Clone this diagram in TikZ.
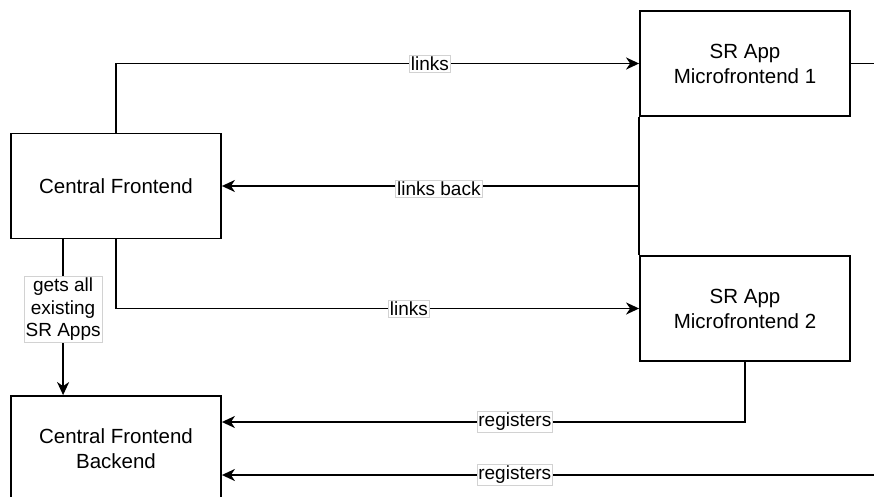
\documentclass[tikz,border=0pt]{standalone}
\usepackage{fontspec}
\setmainfont{Liberation Sans}
\usetikzlibrary{arrows.meta}
\tikzset{
  box/.style={draw, line width=1.8pt, minimum width=210pt, minimum height=105pt, align=center, font=\fontsize{20.5}{25}\selectfont, inner sep=0pt},
  conn/.style={line width=1.8pt},
  arr/.style={conn, -{Stealth[length=13pt, width=12pt, inset=4pt]}},
  lbl/.style={fill=white, draw=gray!35, line width=0.6pt, inner sep=1.5pt, align=center, font=\fontsize{19}{22.5}\selectfont}
}
\begin{document}
\begin{tikzpicture}[x=1pt, y=-1pt]
\clip (0,0) rectangle (874,497);
\fill[white] (0,0) rectangle (874,497);

\node[box] (cf) at (116,186) {Central Frontend};
\node[box] (mf1) at (745,63.5) {SR App\\Microfrontend 1};
\node[box] (mf2) at (745,308.5) {SR App\\Microfrontend 2};
\node[box] (be) at (116,448.5) {Central Frontend\\Backend};

\coordinate (r1) at (880,63.5);
\coordinate (r2) at (880,475);

% links (top)
\draw[arr] (cf.north) |- node[lbl, pos=0.80] {links} (mf1.west);
% links back
\draw[conn] (mf1.south west) -- (mf2.north west);
\draw[arr] (mf1.south west |- cf.east) -- node[lbl, pos=0.48, yshift=-3pt] {links back} (cf.east);
% links (lower)
\draw[arr] (cf.south) |- node[lbl, pos=0.78] {links} (mf2.west);
% gets all existing SR Apps
\draw[arr] ([xshift=53pt]cf.south west) -- node[lbl, pos=0.45] {gets all\\existing\\SR Apps} ([xshift=53pt]be.north west);
% registers from MF2
\draw[arr] (mf2.south) |- node[lbl, pos=0.72] {registers} ([yshift=26.5pt]be.east);
% registers from MF1
\draw[conn] (mf1.east) -- (r1) -- (r2);
\draw[arr] (r2) -- node[lbl, pos=0.555] {registers} ([yshift=-26.5pt]be.east);
\end{tikzpicture}
\end{document}
